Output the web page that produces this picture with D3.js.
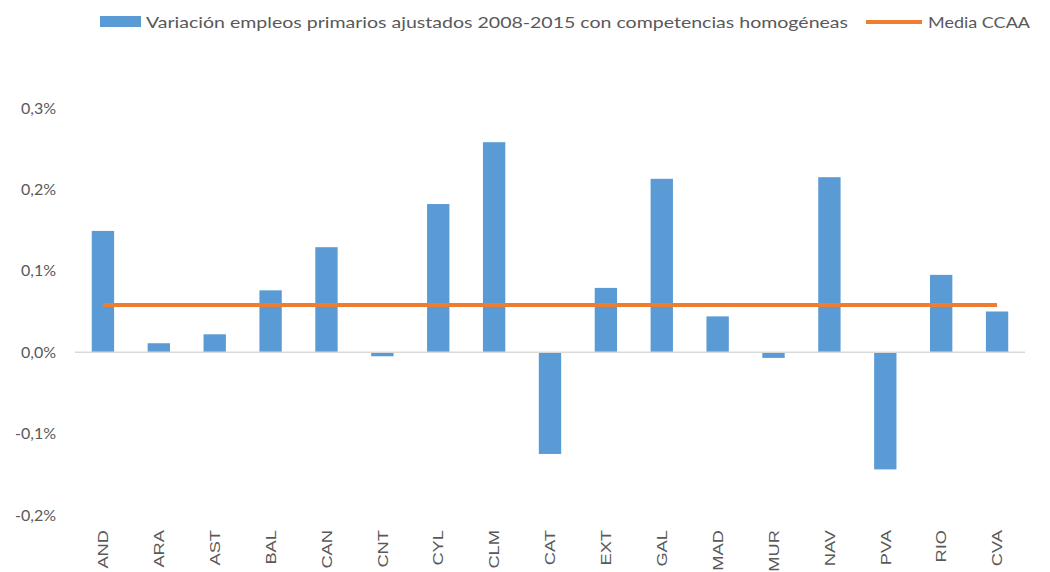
<!DOCTYPE html>
<html>
<head>
<meta charset="utf-8">
<script src="https://cdn.jsdelivr.net/npm/d3@7"></script>
<style>
  body { margin: 0; background: #fff; }
  svg { display: block; }
</style>
</head>
<body>
<div id="viz"></div>
<script>
// regions and their change (in %)
var regions = ['AND','ARA','AST','BAL','CAN','CNT','CYL','CLM','CAT','EXT','GAL','MAD','MUR','NAV','PVA','RIO','CVA'];
var variacion = [0.149, 0.011, 0.022, 0.076, 0.129, -0.005, 0.182, 0.258, -0.125, 0.079, 0.213, 0.044, -0.007, 0.215, -0.144, 0.095, 0.050];
var media = 0.058;
var yTicks = [-0.2, -0.1, 0, 0.1, 0.2, 0.3];
var serieLabel = 'Variación empleos primarios ajustados 2008-2015 con competencias homogéneas';
var mediaLabel = 'Media CCAA';

var width = 1050, height = 572,
    margin = { top: 108, right: 25, bottom: 57, left: 75 };

var svg = d3.select('#viz').append('svg')
  .attr('width', width)
  .attr('height', height);

var x = d3.scaleBand()
  .domain(regions)
  .range([margin.left, width - margin.right])
  .paddingInner(0.6)
  .paddingOuter(0.3);

var y = d3.scaleLinear()
  .domain([-0.2, 0.3])
  .range([height - margin.bottom, margin.top]);

var fmt = function(v) { return v.toFixed(1).replace('.', ',') + '%'; };

// y axis labels (no line)
var yAxis = svg.append('g')
  .attr('transform', 'translate(' + margin.left + ',0)')
  .call(d3.axisLeft(y).tickValues(yTicks).tickFormat(fmt).tickSize(0).tickPadding(19));
yAxis.select('.domain').remove();
yAxis.selectAll('text')
  .attr('fill', '#595959')
  .style('font-family', 'Lato, sans-serif')
  .style('font-size', '16px');

// bars
svg.append('g').selectAll('rect')
  .data(variacion)
  .enter().append('rect')
    .attr('x', function(d, i) { return x(regions[i]); })
    .attr('width', x.bandwidth())
    .attr('y', function(d) { return y(Math.max(0, d)); })
    .attr('height', function(d) { return Math.abs(y(d) - y(0)); })
    .attr('fill', '#5B9BD5');

// zero line
svg.append('line')
  .attr('x1', margin.left).attr('x2', width - margin.right)
  .attr('y1', y(0)).attr('y2', y(0))
  .attr('stroke', '#D9D9D9')
  .attr('stroke-width', 1.5);

// media line
var line = d3.line()
  .x(function(d) { return x(d) + x.bandwidth() / 2; })
  .y(function() { return y(media); });
svg.append('path')
  .datum(regions)
  .attr('d', line)
  .attr('fill', 'none')
  .attr('stroke', '#ED7D31')
  .attr('stroke-width', 4);

// x labels, rotated
var xAxis = svg.append('g')
  .attr('transform', 'translate(0,' + (y(-0.2) + 15) + ')')
  .call(d3.axisBottom(x).tickSize(0).tickPadding(0));
xAxis.select('.domain').remove();
xAxis.selectAll('text')
  .attr('transform', 'rotate(-90) scale(1.22,1)')
  .attr('text-anchor', 'end')
  .attr('x', 0)
  .attr('y', 0)
  .attr('dy', '0.35em')
  .attr('fill', '#595959')
  .style('font-family', '"Liberation Sans", Arial, sans-serif')
  .style('font-size', '15px');

// legend
var legend = svg.append('g').style('font-family', 'Lato, sans-serif').style('font-size', '16px').attr('fill', '#595959');
legend.append('rect').attr('x', 100).attr('y', 16).attr('width', 41).attr('height', 11).attr('fill', '#5B9BD5');
legend.append('text').attr('x', 146).attr('y', 28)
  .attr('textLength', 702).attr('lengthAdjust', 'spacingAndGlyphs').text(serieLabel);
legend.append('line').attr('x1', 866).attr('x2', 922).attr('y1', 22).attr('y2', 22)
  .attr('stroke', '#ED7D31').attr('stroke-width', 4);
legend.append('text').attr('x', 928).attr('y', 28)
  .attr('textLength', 102).attr('lengthAdjust', 'spacingAndGlyphs').text(mediaLabel);
</script>
</body>
</html>
